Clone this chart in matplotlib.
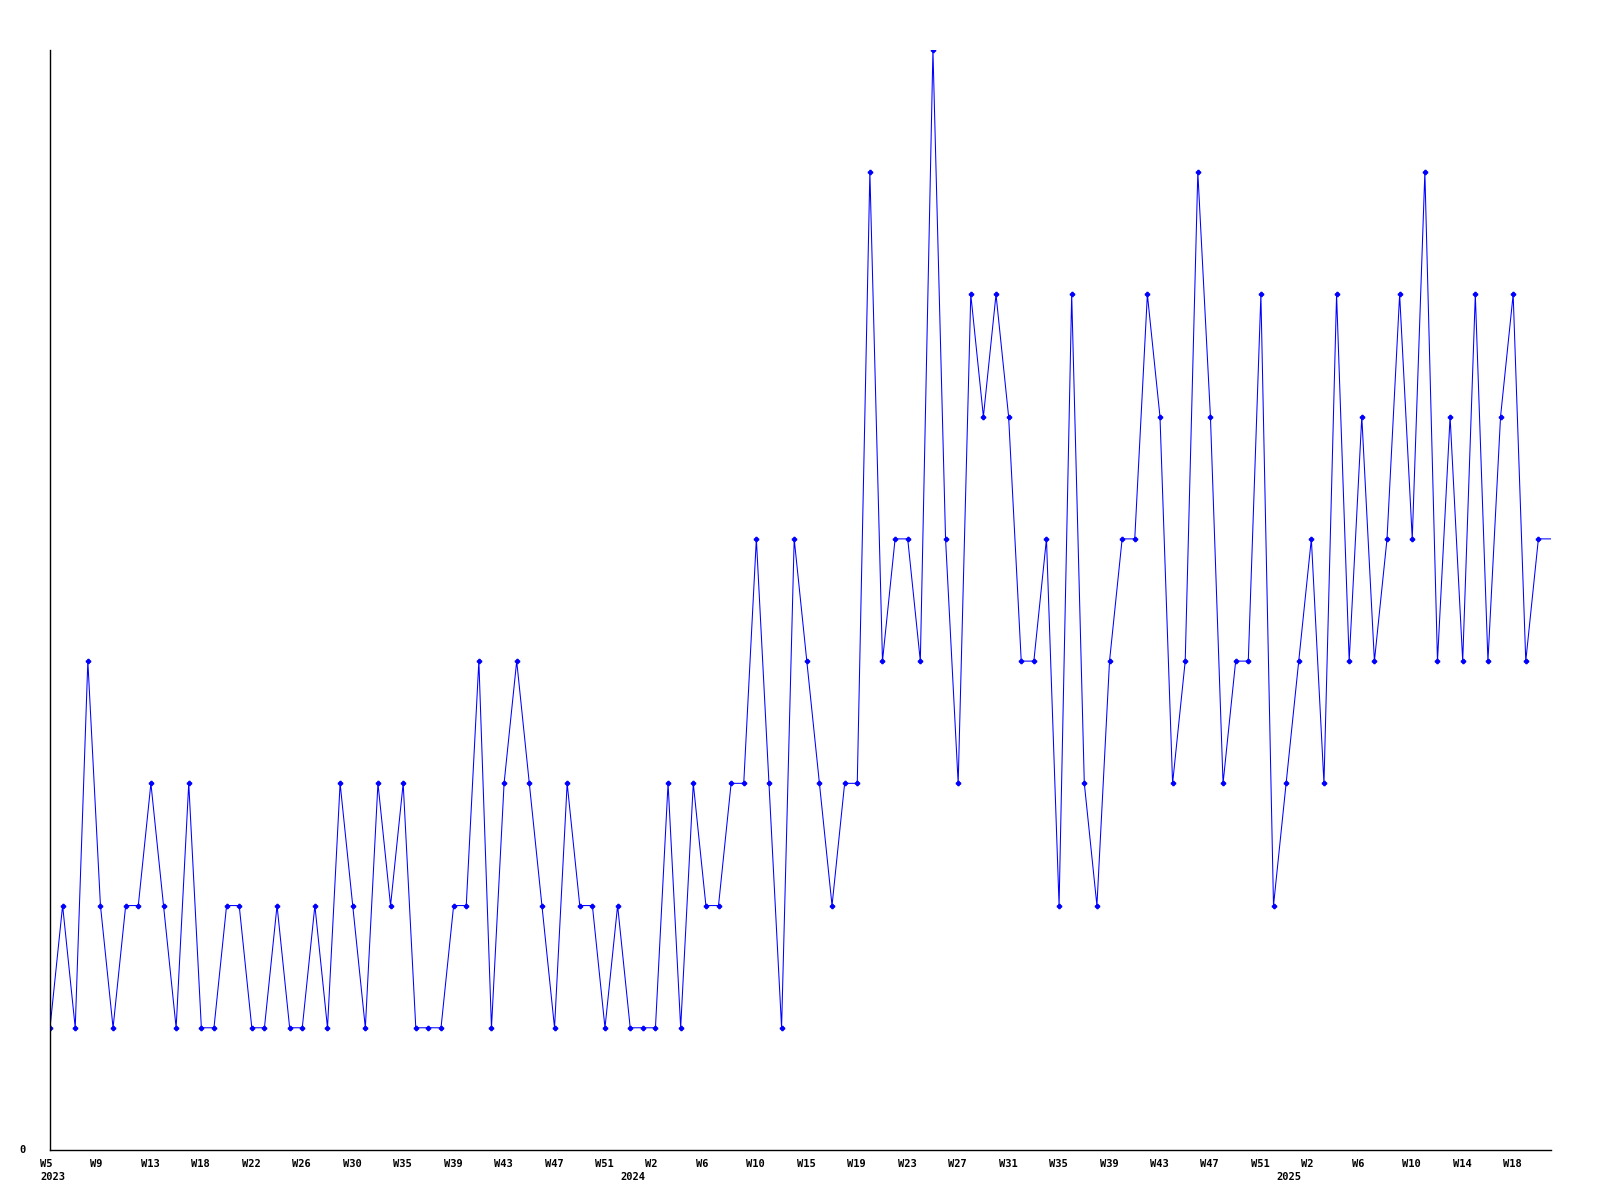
import matplotlib
matplotlib.use("Agg")
import matplotlib.pyplot as plt

# Weekly counts, 2023 W5 onwards (last value only continues the line to the edge)
values = [
    1, 2, 1, 4, 2, 1, 2, 2, 3, 2,
    1, 3, 1, 1, 2, 2, 1, 1, 2, 1,
    1, 2, 1, 3, 2, 1, 3, 2, 3, 1,
    1, 1, 2, 2, 4, 1, 3, 4, 3, 2,
    1, 3, 2, 2, 1, 2, 1, 1, 1, 3,
    1, 3, 2, 2, 3, 3, 5, 3, 1, 5,
    4, 3, 2, 3, 3, 8, 4, 5, 5, 4,
    9, 5, 3, 7, 6, 7, 6, 4, 4, 5,
    2, 7, 3, 2, 4, 5, 5, 7, 6, 3,
    4, 8, 6, 3, 4, 4, 7, 2, 3, 4,
    5, 3, 7, 4, 6, 4, 5, 7, 5, 8,
    4, 6, 4, 7, 4, 6, 7, 4, 5, 5,
]

week_labels = [
    "W5", "W9", "W13", "W18", "W22", "W26", "W30", "W35", "W39", "W43",
    "W47", "W51", "W2", "W6", "W10", "W15", "W19", "W23", "W27", "W31",
    "W35", "W39", "W43", "W47", "W51", "W2", "W6", "W10", "W14", "W18",
]
week_label_idx = list(range(0, 120, 4))[:len(week_labels)]

years = ["2023", "2024", "2025"]
year_idx = [0, 46, 98]

COLOR = "#0000ff"
FONT = dict(family="DejaVu Sans Mono", fontweight="bold", fontsize=7.5)

fig = plt.figure(figsize=(16, 12), dpi=100)
ax = fig.add_axes([50 / 1600, 50 / 1200, 1501 / 1600, 1100 / 1200])

x = list(range(len(values)))
ax.plot(x, values, color=COLOR, linewidth=0.75,
        marker="P", markersize=3, markevery=list(range(len(values) - 1)))

ax.set_xlim(0, len(values) - 1)
ax.set_ylim(0, 9)

for side in ("top", "right"):
    ax.spines[side].set_visible(False)
ax.spines["left"].set_linewidth(1.0)
ax.spines["bottom"].set_linewidth(1.0)

ax.set_xticks([])
ax.set_yticks([])

# y label "0"
ax.annotate("0", xy=(0, 0), xycoords="axes fraction", xytext=(-24, 0),
            textcoords="offset pixels", ha="right", va="center", **FONT)

for i, lab in zip(week_label_idx, week_labels):
    ax.annotate(lab, xy=(i, 0), xycoords=("data", "axes fraction"),
                xytext=(-10, -9), textcoords="offset pixels",
                ha="left", va="top", **FONT)

for i, lab in zip(year_idx, years):
    ax.annotate(lab, xy=(i, 0), xycoords=("data", "axes fraction"),
                xytext=(-10, -22), textcoords="offset pixels",
                ha="left", va="top", **FONT)

fig.savefig("out.png", dpi=100)
